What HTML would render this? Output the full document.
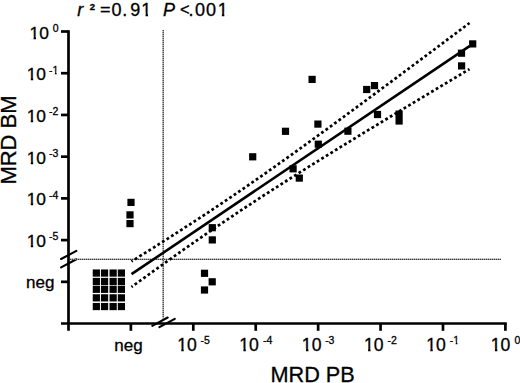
<!DOCTYPE html>
<html><head><meta charset="utf-8"><style>
html,body{margin:0;padding:0;background:#fff;}
svg{display:block;}
</style></head><body>
<svg width="520" height="383" viewBox="0 0 520 383">
<line x1="68.5" y1="30.2" x2="68.5" y2="330.8" stroke="#000" stroke-width="2.7"/>
<line x1="61" y1="31.50" x2="68.5" y2="31.50" stroke="#000" stroke-width="2.7"/>
<line x1="61" y1="73.22" x2="68.5" y2="73.22" stroke="#000" stroke-width="2.7"/>
<line x1="61" y1="114.94" x2="68.5" y2="114.94" stroke="#000" stroke-width="2.7"/>
<line x1="61" y1="156.66" x2="68.5" y2="156.66" stroke="#000" stroke-width="2.7"/>
<line x1="61" y1="198.38" x2="68.5" y2="198.38" stroke="#000" stroke-width="2.7"/>
<line x1="61" y1="240.10" x2="68.5" y2="240.10" stroke="#000" stroke-width="2.7"/>
<line x1="61" y1="281.82" x2="68.5" y2="281.82" stroke="#000" stroke-width="2.7"/>
<line x1="61" y1="323.5" x2="506.80" y2="323.5" stroke="#000" stroke-width="2.7"/>
<line x1="130.88" y1="323.5" x2="130.88" y2="330.8" stroke="#000" stroke-width="2.7"/>
<line x1="193.30" y1="323.5" x2="193.30" y2="330.8" stroke="#000" stroke-width="2.7"/>
<line x1="255.72" y1="323.5" x2="255.72" y2="330.8" stroke="#000" stroke-width="2.7"/>
<line x1="318.14" y1="323.5" x2="318.14" y2="330.8" stroke="#000" stroke-width="2.7"/>
<line x1="380.56" y1="323.5" x2="380.56" y2="330.8" stroke="#000" stroke-width="2.7"/>
<line x1="442.98" y1="323.5" x2="442.98" y2="330.8" stroke="#000" stroke-width="2.7"/>
<line x1="505.40" y1="323.5" x2="505.40" y2="330.8" stroke="#000" stroke-width="2.7"/>
<line x1="61.1" y1="259" x2="76.4" y2="250.9" stroke="#000" stroke-width="2.1" stroke-linecap="round"/>
<line x1="61.1" y1="267.4" x2="76.4" y2="259.3" stroke="#000" stroke-width="2.1" stroke-linecap="round"/>
<line x1="152.3" y1="325.8" x2="167.7" y2="317.5" stroke="#000" stroke-width="2.1" stroke-linecap="round"/>
<line x1="159.4" y1="327.1" x2="174.8" y2="318.8" stroke="#000" stroke-width="2.1" stroke-linecap="round"/>
<line x1="163.2" y1="30" x2="163.2" y2="318.5" stroke="#999" stroke-width="1.2"/>
<line x1="70" y1="259.4" x2="501" y2="259.4" stroke="#999" stroke-width="1.2"/>
<line x1="163.2" y1="30" x2="163.2" y2="318.5" stroke="#383838" stroke-width="1.2" stroke-dasharray="1 1"/>
<line x1="70" y1="259.4" x2="501" y2="259.4" stroke="#383838" stroke-width="1.2" stroke-dasharray="1 1"/>
<line x1="131.5" y1="274.20" x2="469.5" y2="46.05" stroke="#000" stroke-width="2.6"/>
<polyline points="131.50,261.39 137.13,257.88 142.77,254.36 148.40,250.83 154.03,247.28 159.67,243.72 165.30,240.15 170.93,236.55 176.57,232.95 182.20,229.32 187.83,225.67 193.47,222.01 199.10,218.32 204.73,214.61 210.37,210.88 216.00,207.13 221.63,203.35 227.27,199.56 232.90,195.74 238.53,191.89 244.17,188.03 249.80,184.14 255.43,180.23 261.07,176.30 266.70,172.35 272.33,168.38 277.97,164.39 283.60,160.38 289.23,156.36 294.87,152.32 300.50,148.27 306.13,144.20 311.77,140.12 317.40,136.03 323.03,131.93 328.67,127.82 334.30,123.69 339.93,119.56 345.57,115.42 351.20,111.27 356.83,107.12 362.47,102.95 368.10,98.78 373.73,94.61 379.37,90.43 385.00,86.24 390.63,82.05 396.27,77.86 401.90,73.66 407.53,69.46 413.17,65.25 418.80,61.04 424.43,56.83 430.07,52.61 435.70,48.39 441.33,44.17 446.97,39.95 452.60,35.72 458.23,31.49 463.87,27.26 469.50,23.03" fill="none" stroke="#000" stroke-width="2.7" stroke-dasharray="2.8 2.56" stroke-dashoffset="1.4"/>
<polyline points="131.50,287.01 137.13,282.91 142.77,278.83 148.40,274.75 154.03,270.70 159.67,266.65 165.30,262.62 170.93,258.61 176.57,254.61 182.20,250.64 187.83,246.68 193.47,242.74 199.10,238.82 204.73,234.92 210.37,231.05 216.00,227.20 221.63,223.37 227.27,219.56 232.90,215.77 238.53,212.01 244.17,208.27 249.80,204.56 255.43,200.86 261.07,197.19 266.70,193.53 272.33,189.90 277.97,186.28 283.60,182.68 289.23,179.10 294.87,175.53 300.50,171.98 306.13,168.44 311.77,164.92 317.40,161.40 323.03,157.90 328.67,154.41 334.30,150.93 339.93,147.45 345.57,143.99 351.20,140.53 356.83,137.08 362.47,133.64 368.10,130.21 373.73,126.78 379.37,123.35 385.00,119.93 390.63,116.52 396.27,113.11 401.90,109.70 407.53,106.30 413.17,102.90 418.80,99.50 424.43,96.11 430.07,92.72 435.70,89.34 441.33,85.95 446.97,82.57 452.60,79.20 458.23,75.82 463.87,72.45 469.50,69.07" fill="none" stroke="#000" stroke-width="2.7" stroke-dasharray="2.8 2.56" stroke-dashoffset="1.4"/>
<rect x="469.10" y="40.30" width="7.2" height="7.2" fill="#000"/>
<rect x="457.90" y="49.60" width="7.2" height="7.2" fill="#000"/>
<rect x="458.00" y="62.30" width="7.2" height="7.2" fill="#000"/>
<rect x="308.50" y="75.80" width="7.2" height="7.2" fill="#000"/>
<rect x="363.10" y="85.90" width="7.2" height="7.2" fill="#000"/>
<rect x="370.90" y="82.00" width="7.2" height="7.2" fill="#000"/>
<rect x="373.90" y="110.90" width="7.2" height="7.2" fill="#000"/>
<rect x="314.30" y="120.50" width="7.2" height="7.2" fill="#000"/>
<rect x="344.30" y="127.60" width="7.2" height="7.2" fill="#000"/>
<rect x="281.90" y="127.70" width="7.2" height="7.2" fill="#000"/>
<rect x="314.70" y="140.60" width="7.2" height="7.2" fill="#000"/>
<rect x="249.10" y="153.20" width="7.2" height="7.2" fill="#000"/>
<rect x="289.50" y="165.20" width="7.2" height="7.2" fill="#000"/>
<rect x="295.70" y="174.50" width="7.2" height="7.2" fill="#000"/>
<rect x="127.40" y="198.80" width="7.2" height="7.2" fill="#000"/>
<rect x="126.40" y="211.30" width="7.2" height="7.2" fill="#000"/>
<rect x="126.40" y="220.00" width="7.2" height="7.2" fill="#000"/>
<rect x="208.70" y="224.10" width="7.2" height="7.2" fill="#000"/>
<rect x="208.70" y="236.30" width="7.2" height="7.2" fill="#000"/>
<rect x="200.90" y="269.70" width="7.2" height="7.2" fill="#000"/>
<rect x="208.60" y="278.20" width="7.2" height="7.2" fill="#000"/>
<rect x="200.90" y="286.40" width="7.2" height="7.2" fill="#000"/>
<rect x="92.75" y="269.45" width="7.2" height="7.2" fill="#000"/>
<rect x="92.75" y="277.85" width="7.2" height="7.2" fill="#000"/>
<rect x="92.75" y="285.70" width="7.2" height="7.2" fill="#000"/>
<rect x="92.75" y="294.25" width="7.2" height="7.2" fill="#000"/>
<rect x="92.75" y="302.95" width="7.2" height="7.2" fill="#000"/>
<rect x="100.95" y="269.45" width="7.2" height="7.2" fill="#000"/>
<rect x="100.95" y="277.85" width="7.2" height="7.2" fill="#000"/>
<rect x="100.95" y="285.70" width="7.2" height="7.2" fill="#000"/>
<rect x="100.95" y="294.25" width="7.2" height="7.2" fill="#000"/>
<rect x="100.95" y="302.95" width="7.2" height="7.2" fill="#000"/>
<rect x="109.55" y="269.45" width="7.2" height="7.2" fill="#000"/>
<rect x="109.55" y="277.85" width="7.2" height="7.2" fill="#000"/>
<rect x="109.55" y="285.70" width="7.2" height="7.2" fill="#000"/>
<rect x="109.55" y="294.25" width="7.2" height="7.2" fill="#000"/>
<rect x="109.55" y="302.95" width="7.2" height="7.2" fill="#000"/>
<rect x="117.80" y="269.45" width="7.2" height="7.2" fill="#000"/>
<rect x="117.80" y="277.85" width="7.2" height="7.2" fill="#000"/>
<rect x="117.80" y="285.70" width="7.2" height="7.2" fill="#000"/>
<rect x="117.80" y="294.25" width="7.2" height="7.2" fill="#000"/>
<rect x="117.80" y="302.95" width="7.2" height="7.2" fill="#000"/>
<rect x="395.50" y="110.5" width="7.2" height="14.1" fill="#000"/>
<text x="77.20" y="15.80" font-family="Liberation Sans, sans-serif" stroke="#000" stroke-width="0.3" font-style="italic" font-size="18">r</text>
<text x="89.67" y="9.9" font-family="Liberation Sans, sans-serif" stroke="#000" stroke-width="0.3" font-size="9.5" font-weight="bold">2</text>
<text transform="translate(100.02,14.5) scale(1,0.934)" x="0" y="0" font-family="Liberation Sans, sans-serif" stroke="#000" stroke-width="0.3" font-size="18">=</text>
<text x="111.60 122.26 130.36 141.33" y="15.80" font-family="Liberation Sans, sans-serif" stroke="#000" stroke-width="0.3" font-size="18">0.91</text>
<text x="162.95" y="15.80" font-family="Liberation Sans, sans-serif" stroke="#000" stroke-width="0.3" font-style="italic" font-size="18">P</text>
<text x="179.99" y="15.10" font-family="Liberation Sans, sans-serif" stroke="#000" stroke-width="0.3" font-size="16.5">&lt;</text>
<text x="188.56 194.90 206.00 217.63" y="15.80" font-family="Liberation Sans, sans-serif" stroke="#000" stroke-width="0.3" font-size="18">.001</text>
<text x="29.47" y="38.50" font-family="Liberation Sans, sans-serif" stroke="#000" stroke-width="0.3" font-size="17.4">10</text>
<text x="52.79" y="31.80" font-family="Liberation Sans, sans-serif" stroke="#000" stroke-width="0.3" font-size="10.5">0</text>
<text x="26.67" y="80.22" font-family="Liberation Sans, sans-serif" stroke="#000" stroke-width="0.3" font-size="17.4">10</text>
<text x="49.03" y="73.52" font-family="Liberation Sans, sans-serif" stroke="#000" stroke-width="0.3" font-size="10.5">-1</text>
<text x="26.67" y="121.94" font-family="Liberation Sans, sans-serif" stroke="#000" stroke-width="0.3" font-size="17.4">10</text>
<text x="49.03" y="115.24" font-family="Liberation Sans, sans-serif" stroke="#000" stroke-width="0.3" font-size="10.5">-2</text>
<text x="26.67" y="163.66" font-family="Liberation Sans, sans-serif" stroke="#000" stroke-width="0.3" font-size="17.4">10</text>
<text x="49.03" y="156.96" font-family="Liberation Sans, sans-serif" stroke="#000" stroke-width="0.3" font-size="10.5">-3</text>
<text x="26.67" y="205.38" font-family="Liberation Sans, sans-serif" stroke="#000" stroke-width="0.3" font-size="17.4">10</text>
<text x="49.03" y="198.68" font-family="Liberation Sans, sans-serif" stroke="#000" stroke-width="0.3" font-size="10.5">-4</text>
<text x="26.67" y="247.10" font-family="Liberation Sans, sans-serif" stroke="#000" stroke-width="0.3" font-size="17.4">10</text>
<text x="49.03" y="240.40" font-family="Liberation Sans, sans-serif" stroke="#000" stroke-width="0.3" font-size="10.5">-5</text>
<text x="25.97" y="287.70" font-family="Liberation Sans, sans-serif" stroke="#000" stroke-width="0.3" font-size="17">neg</text>
<text x="177.16" y="350.90" font-family="Liberation Sans, sans-serif" stroke="#000" stroke-width="0.3" font-size="17.6">10</text>
<text x="200.53" y="343.60" font-family="Liberation Sans, sans-serif" stroke="#000" stroke-width="0.3" font-size="10.5">-5</text>
<text x="239.26" y="350.90" font-family="Liberation Sans, sans-serif" stroke="#000" stroke-width="0.3" font-size="17.6">10</text>
<text x="262.93" y="343.60" font-family="Liberation Sans, sans-serif" stroke="#000" stroke-width="0.3" font-size="10.5">-4</text>
<text x="301.86" y="350.90" font-family="Liberation Sans, sans-serif" stroke="#000" stroke-width="0.3" font-size="17.6">10</text>
<text x="325.13" y="343.60" font-family="Liberation Sans, sans-serif" stroke="#000" stroke-width="0.3" font-size="10.5">-3</text>
<text x="363.96" y="350.90" font-family="Liberation Sans, sans-serif" stroke="#000" stroke-width="0.3" font-size="17.6">10</text>
<text x="387.43" y="343.60" font-family="Liberation Sans, sans-serif" stroke="#000" stroke-width="0.3" font-size="10.5">-2</text>
<text x="426.16" y="350.90" font-family="Liberation Sans, sans-serif" stroke="#000" stroke-width="0.3" font-size="17.6">10</text>
<text x="449.83" y="343.60" font-family="Liberation Sans, sans-serif" stroke="#000" stroke-width="0.3" font-size="10.5">-1</text>
<text x="490.76" y="350.90" font-family="Liberation Sans, sans-serif" stroke="#000" stroke-width="0.3" font-size="17.6">10</text>
<text x="514.39" y="343.60" font-family="Liberation Sans, sans-serif" stroke="#000" stroke-width="0.3" font-size="10.5">0</text>
<text x="114.27" y="350.50" font-family="Liberation Sans, sans-serif" stroke="#000" stroke-width="0.3" font-size="17">neg</text>
<text x="270.42" y="381.60" font-family="Liberation Sans, sans-serif" stroke="#000" stroke-width="0.3" font-size="21.7">MRD PB</text>
<text transform="translate(15.8,140) rotate(-90)" font-family="Liberation Sans, sans-serif" stroke="#000" stroke-width="0.3" font-size="22" text-anchor="middle">MRD BM</text>
<rect x="141.80" y="13.50" width="3.76" height="3.6" fill="#fff"/>
<rect x="148.05" y="13.50" width="3.31" height="3.6" fill="#fff"/>
<rect x="218.10" y="13.50" width="3.76" height="3.6" fill="#fff"/>
<rect x="224.35" y="13.50" width="3.31" height="3.6" fill="#fff"/>
<rect x="29.90" y="36.20" width="3.65" height="3.6" fill="#fff"/>
<rect x="35.99" y="36.20" width="3.21" height="3.6" fill="#fff"/>
<rect x="27.10" y="77.92" width="3.65" height="3.6" fill="#fff"/>
<rect x="33.19" y="77.92" width="3.21" height="3.6" fill="#fff"/>
<rect x="52.43" y="71.22" width="2.44" height="3.6" fill="#fff"/>
<rect x="56.70" y="71.22" width="2.06" height="3.6" fill="#fff"/>
<rect x="27.10" y="119.64" width="3.65" height="3.6" fill="#fff"/>
<rect x="33.19" y="119.64" width="3.21" height="3.6" fill="#fff"/>
<rect x="27.10" y="161.36" width="3.65" height="3.6" fill="#fff"/>
<rect x="33.19" y="161.36" width="3.21" height="3.6" fill="#fff"/>
<rect x="27.10" y="203.08" width="3.65" height="3.6" fill="#fff"/>
<rect x="33.19" y="203.08" width="3.21" height="3.6" fill="#fff"/>
<rect x="27.10" y="244.80" width="3.65" height="3.6" fill="#fff"/>
<rect x="33.19" y="244.80" width="3.21" height="3.6" fill="#fff"/>
<rect x="177.60" y="348.60" width="3.69" height="3.6" fill="#fff"/>
<rect x="183.74" y="348.60" width="3.25" height="3.6" fill="#fff"/>
<rect x="239.70" y="348.60" width="3.69" height="3.6" fill="#fff"/>
<rect x="245.84" y="348.60" width="3.25" height="3.6" fill="#fff"/>
<rect x="302.30" y="348.60" width="3.69" height="3.6" fill="#fff"/>
<rect x="308.44" y="348.60" width="3.25" height="3.6" fill="#fff"/>
<rect x="364.40" y="348.60" width="3.69" height="3.6" fill="#fff"/>
<rect x="370.54" y="348.60" width="3.25" height="3.6" fill="#fff"/>
<rect x="426.60" y="348.60" width="3.69" height="3.6" fill="#fff"/>
<rect x="432.74" y="348.60" width="3.25" height="3.6" fill="#fff"/>
<rect x="453.23" y="341.30" width="2.44" height="3.6" fill="#fff"/>
<rect x="457.50" y="341.30" width="2.06" height="3.6" fill="#fff"/>
<rect x="491.20" y="348.60" width="3.69" height="3.6" fill="#fff"/>
<rect x="497.34" y="348.60" width="3.25" height="3.6" fill="#fff"/>
</svg>
</body></html>
